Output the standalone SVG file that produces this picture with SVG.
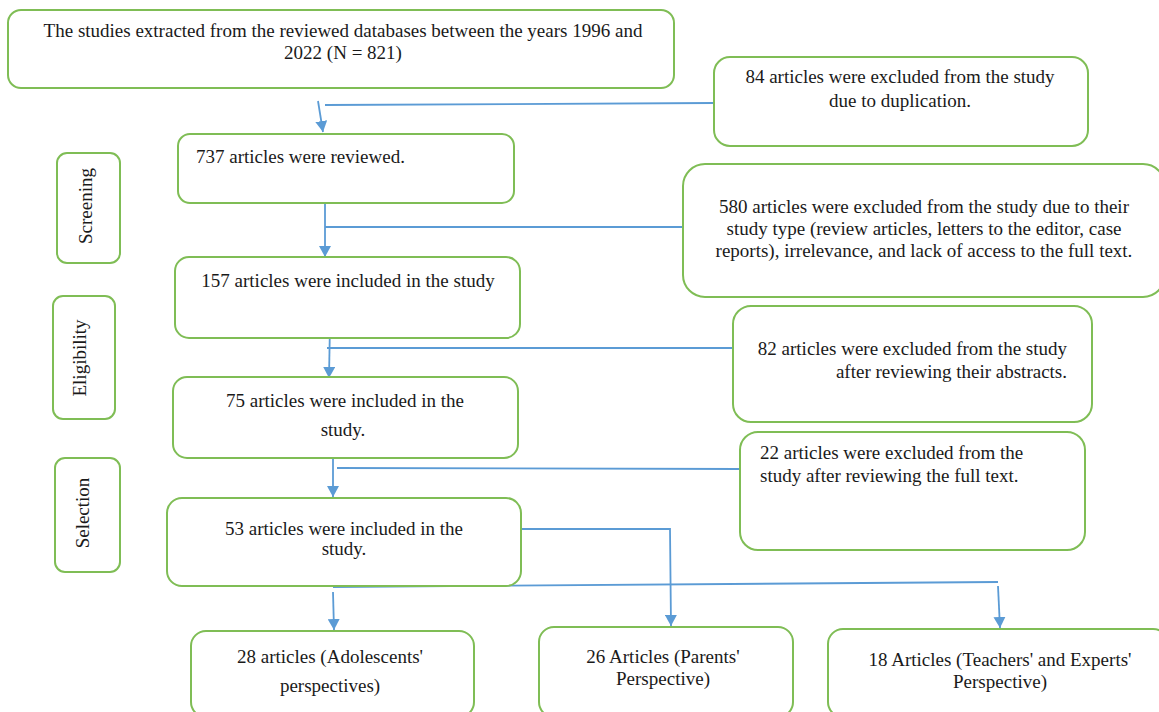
<svg xmlns="http://www.w3.org/2000/svg" width="1159" height="712" viewBox="0 0 1159 712">
<style>
  .box { fill: #ffffff; stroke: #7fbd55; stroke-width: 2; }
  .t { font-family: "Liberation Serif", "Times New Roman", serif; font-size: 19px; fill: #1a1a1a; }
  .c { text-anchor: middle; }
  .e { text-anchor: end; }
  .conn { fill: none; stroke: #5b9bd5; stroke-width: 1.8; }
</style>
<defs>
  <marker id="arrow" markerUnits="userSpaceOnUse" markerWidth="12" markerHeight="12" refX="11" refY="6" orient="auto">
    <path d="M0,0 L11,6 L0,12 z" fill="#5b9bd5"/>
  </marker>
</defs>
<rect width="1159" height="712" fill="#ffffff"/>

<g id="connectors">
  <line class="conn" x1="318" y1="101" x2="323" y2="132" marker-end="url(#arrow)"/>
  <line class="conn" x1="325" y1="105" x2="713" y2="103"/>
  <line class="conn" x1="325" y1="203" x2="325" y2="257" marker-end="url(#arrow)"/>
  <line class="conn" x1="325" y1="227" x2="683" y2="227"/>
  <line class="conn" x1="330" y1="323" x2="329" y2="378" marker-end="url(#arrow)"/>
  <line class="conn" x1="327" y1="348" x2="733" y2="348"/>
  <line class="conn" x1="333" y1="443" x2="333" y2="497" marker-end="url(#arrow)"/>
  <line class="conn" x1="337" y1="468" x2="740" y2="469"/>
  <polyline class="conn" points="521,529 670,529 671,626" marker-end="url(#arrow)"/>
  <line class="conn" x1="333" y1="587" x2="998" y2="582"/>
  <line class="conn" x1="998" y1="586" x2="1000" y2="628" marker-end="url(#arrow)"/>
  <line class="conn" x1="333" y1="592" x2="334" y2="630" marker-end="url(#arrow)"/>
</g>

<g id="node-source">
  <rect class="box" x="8" y="10" width="666" height="78" rx="13"/>
  <text class="t c" x="343" y="37">The studies extracted from the reviewed databases between the years 1996 and</text>
  <text class="t c" x="343" y="59">2022 (N = 821)</text>
</g>

<g id="node-dup">
  <rect class="box" x="714" y="57" width="374" height="89" rx="16"/>
  <text class="t c" x="900" y="83">84 articles were excluded from the study</text>
  <text class="t c" x="900" y="107">due to duplication.</text>
</g>

<g id="node-screening">
  <rect class="box" x="57" y="153" width="63" height="110" rx="10"/>
  <text class="t c" transform="translate(92,206) rotate(-90)">Screening</text>
</g>

<g id="node-737">
  <rect class="box" x="178" y="134" width="336" height="69" rx="12"/>
  <text class="t" x="196" y="163">737 articles were reviewed.</text>
</g>

<g id="node-580">
  <rect class="box" x="683" y="164" width="482" height="133" rx="22"/>
  <text class="t c" x="924" y="213">580 articles were excluded from the study due to their</text>
  <text class="t c" x="924" y="235">study type (review articles, letters to the editor, case</text>
  <text class="t c" x="924" y="257">reports), irrelevance, and lack of access to the full text.</text>
</g>

<g id="node-157">
  <rect class="box" x="175" y="257" width="345" height="81" rx="14"/>
  <text class="t c" x="348" y="287">157 articles were included in the study</text>
</g>

<g id="node-eligibility">
  <rect class="box" x="53" y="296" width="62" height="123" rx="10"/>
  <text class="t c" transform="translate(86,358) rotate(-90)">Eligibility</text>
</g>

<g id="node-82">
  <rect class="box" x="733" y="306" width="359" height="116" rx="18"/>
  <text class="t e" x="1067" y="355">82 articles were excluded from the study</text>
  <text class="t e" x="1067" y="378">after reviewing their abstracts.</text>
</g>

<g id="node-75">
  <rect class="box" x="173" y="377" width="345" height="81" rx="14"/>
  <text class="t c" x="345" y="407">75 articles were included in the</text>
  <text class="t c" x="343" y="436">study.</text>
</g>

<g id="node-selection">
  <rect class="box" x="55" y="458" width="65" height="114" rx="10"/>
  <text class="t c" transform="translate(89,513) rotate(-90)">Selection</text>
</g>

<g id="node-22">
  <rect class="box" x="740" y="432" width="345" height="118" rx="18"/>
  <text class="t" x="760" y="459">22 articles were excluded from the</text>
  <text class="t" x="760" y="482">study after reviewing the full text.</text>
</g>

<g id="node-53">
  <rect class="box" x="167" y="498" width="354" height="88" rx="15"/>
  <text class="t c" x="344" y="535">53 articles were included in the</text>
  <text class="t c" x="344" y="555">study.</text>
</g>

<g id="node-28">
  <rect class="box" x="191" y="631" width="283" height="86" rx="15"/>
  <text class="t c" x="330" y="663">28 articles (Adolescents'</text>
  <text class="t c" x="330" y="692">perspectives)</text>
</g>

<g id="node-26">
  <rect class="box" x="539" y="627" width="254" height="90" rx="15"/>
  <text class="t c" x="663" y="663">26 Articles (Parents'</text>
  <text class="t c" x="663" y="685">Perspective)</text>
</g>

<g id="node-18">
  <rect class="box" x="828" y="629" width="340" height="88" rx="15"/>
  <text class="t c" x="1000" y="666">18 Articles (Teachers' and Experts'</text>
  <text class="t c" x="1000" y="688">Perspective)</text>
</g>
</svg>
